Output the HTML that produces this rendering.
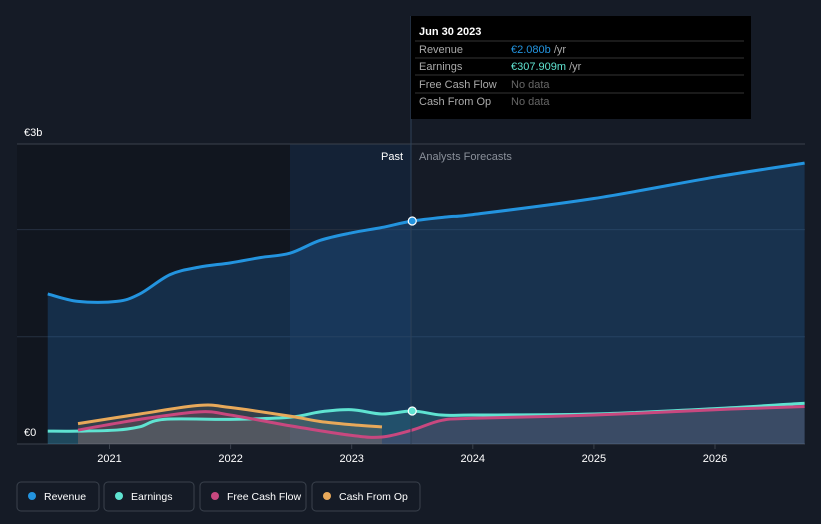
<!DOCTYPE html>
<html><head><meta charset="utf-8"><style>
body{margin:0;background:#151b26;font-family:"Liberation Sans",sans-serif;}
svg{display:block}
</style></head><body>
<svg id="c" width="821" height="524">
<rect width="821" height="524" fill="#151b26"/>
<rect x="17" y="144" width="273" height="300" fill="#11161f"/>
<rect x="290" y="144" width="121" height="300" fill="#142236"/>
<g id="grid"></g>
<g id="areas"></g>
<g id="lines"></g>
<line x1="411" y1="16" x2="411" y2="444" stroke="#2e4258" stroke-width="1"/>
<text x="403" y="160" fill="#fff" font-size="11" text-anchor="end">Past</text>
<text x="419" y="160" fill="#8a909a" font-size="11">Analysts Forecasts</text>
<text x="24" y="136" fill="#fff" font-size="11">€3b</text>
<text x="24" y="436" fill="#fff" font-size="11">€0</text>
<g id="xt"></g>
<g id="dots"></g>
<g>
<rect x="411" y="16" width="340" height="103" fill="#000"/>
<text x="419" y="35" fill="#fff" font-size="11" font-weight="bold">Jun 30 2023</text>
<line x1="415" y1="41" x2="744" y2="41" stroke="#333"/>
<text x="419" y="53" fill="#aaa" font-size="11">Revenue</text><text x="511" y="53" font-size="11" fill="#2394df">€2.080b <tspan fill="#aaa">/yr</tspan></text>
<line x1="415" y1="58" x2="744" y2="58" stroke="#333"/>
<text x="419" y="70" fill="#aaa" font-size="11">Earnings</text><text x="511" y="70" font-size="11" fill="#5fe3d1">€307.909m <tspan fill="#aaa">/yr</tspan></text>
<line x1="415" y1="75" x2="744" y2="75" stroke="#333"/>
<text x="419" y="88" fill="#aaa" font-size="11">Free Cash Flow</text><text x="511" y="88" font-size="11" fill="#666">No data</text>
<line x1="415" y1="93" x2="744" y2="93" stroke="#333"/>
<text x="419" y="105" fill="#aaa" font-size="11">Cash From Op</text><text x="511" y="105" font-size="11" fill="#666">No data</text>
</g>
<g id="legend"></g>
</svg>
<script>
const revT=[2020.49,2020.74,2021.06,2021.25,2021.5,2021.74,2022,2022.25,2022.49,2022.74,2023,2023.25,2023.5,2023.8,2024,2025,2026,2026.74];
const revV=[1.40,1.33,1.33,1.40,1.58,1.65,1.69,1.74,1.78,1.90,1.97,2.02,2.08,2.12,2.14,2.29,2.49,2.62];
const earnT=[2020.49,2020.74,2021.06,2021.25,2021.45,2022,2022.49,2022.74,2023,2023.25,2023.5,2023.74,2024,2025,2026,2026.74];
const earnV=[0.12,0.12,0.13,0.16,0.23,0.23,0.25,0.30,0.32,0.28,0.308,0.27,0.27,0.28,0.33,0.38];
const fcfT=[2020.74,2021.25,2021.74,2022,2022.49,2023,2023.25,2023.5,2023.74,2024,2025,2026,2026.74];
const fcfV=[0.13,0.23,0.30,0.27,0.17,0.08,0.065,0.13,0.22,0.24,0.27,0.32,0.35];
const cfoT=[2020.74,2021.25,2021.74,2022,2022.49,2022.74,2023,2023.25];
const cfoV=[0.19,0.28,0.36,0.34,0.26,0.21,0.18,0.16];
const yearTicks=[2021,2022,2023,2024,2025,2026];
const gridVals=[1,2];
const x=t=>109.5+(t-2021)*121.1;
const y=v=>444-v*107.2;
const NS="http://www.w3.org/2000/svg";
function mk(tag,at,parent){const e=document.createElementNS(NS,tag);for(const k in at)e.setAttribute(k,at[k]);document.getElementById(parent).appendChild(e);return e;}
function path(T,V){const p=T.map((t,i)=>[x(t),y(V[i])]);let d="M"+p[0][0]+","+p[0][1];
for(let i=0;i<p.length-1;i++){const p0=p[i-1]||p[i],p1=p[i],p2=p[i+1],p3=p[i+2]||p2;
d+=" C"+(p1[0]+(p2[0]-p0[0])/6)+","+(p1[1]+(p2[1]-p0[1])/6)+" "+(p2[0]-(p3[0]-p1[0])/6)+","+(p2[1]-(p3[1]-p1[1])/6)+" "+p2[0]+","+p2[1];}return d;}
let g=mk('line',{x1:17,x2:805,y1:144,y2:144,stroke:'#3a414c'},'grid');

gridVals.forEach(v=>{const l=mk('line',{x1:17,x2:805,y1:y(v),y2:y(v),stroke:'#263040'},'grid');
});
const base=mk('line',{x1:17,x2:805,y1:444,y2:444,stroke:'#3a414c'},'grid');

const series=[["revenue",revT,revV,"#2394df","rgba(35,120,200,0.25)"],["earnings",earnT,earnV,"#5fe3d1","rgba(95,227,209,0.15)"],["free-cash-flow",fcfT,fcfV,"#c8487f","rgba(200,72,127,0.15)"],["cash-from-op",cfoT,cfoV,"#e8a95a","rgba(232,169,90,0.15)"]];
series.forEach(s=>{const d=path(s[1],s[2]);
const a=mk('path',{d:d+" L"+x(s[1][s[1].length-1])+",444 L"+x(s[1][0])+",444 Z",fill:s[4]},'areas');

const l=mk('path',{d:d,fill:'none',stroke:s[3],'stroke-width':3},'lines');
});
yearTicks.forEach(t=>{const tk=mk('line',{x1:x(t),x2:x(t),y1:444,y2:449,stroke:'#3a414c'},'xt');

const tx=mk('text',{x:x(t),y:462,fill:'#fff','font-size':11,'text-anchor':'middle'},'xt');tx.textContent=t;
});
[[revV[12],"#2394df"],[earnV[10],"#5fe3d1"]].forEach(p=>{const c=mk('circle',{cx:x(2023.5),cy:y(p[0]),r:4,fill:p[1],stroke:'#fff','stroke-width':1.2},'dots');
});
const leg=[["Revenue","#2394df",17,82],["Earnings","#5fe3d1",104,90],["Free Cash Flow","#c8487f",200,106],["Cash From Op","#e8a95a",312,108]];
leg.forEach(l=>{const r=mk('rect',{x:l[2],y:482,width:l[3],height:29,rx:4,fill:'none',stroke:'#3a414c'},'legend');

mk('circle',{cx:l[2]+15,cy:496,r:4,fill:l[1]},'legend');
const t=mk('text',{x:l[2]+27,y:500,fill:'#fff','font-size':10.5},'legend');t.textContent=l[0];
});
</script>
</body></html>
